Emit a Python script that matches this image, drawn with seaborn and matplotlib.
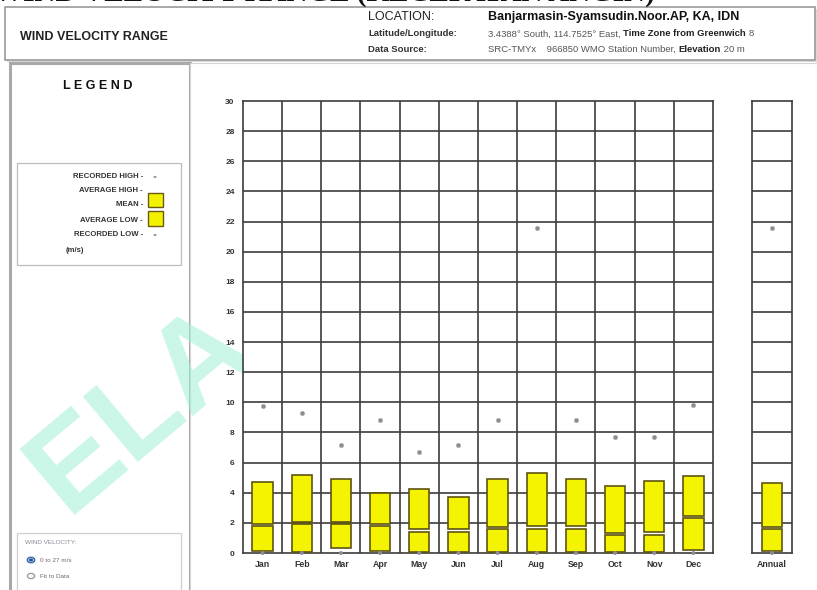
import numpy as np
import pandas as pd
import matplotlib
matplotlib.use("Agg")
import matplotlib.pyplot as plt
from matplotlib.patches import Rectangle, Circle
import seaborn as sns

# ---- data (m/s) ----
months = ["Jan", "Feb", "Mar", "Apr", "May", "Jun",
          "Jul", "Aug", "Sep", "Oct", "Nov", "Dec"]
recorded_high = [9.75, 9.3, 7.2, 8.8, 6.7, 7.2, 8.8, 21.6, 8.8, 7.7, 7.7, 9.8]
average_high = [4.7, 5.2, 4.9, 4.0, 4.25, 3.75, 4.9, 5.3, 4.9, 4.45, 4.75, 5.1]
mean_speed = [1.85, 2.0, 2.0, 1.85, 1.5, 1.5, 1.65, 1.7, 1.7, 1.25, 1.3, 2.4]
average_low = [0.1, 0.05, 0.3, 0.1, 0.05, 0.05, 0.05, 0.05, 0.05, 0.05, 0.05, 0.2]
recorded_low = [0.0] * 12

annual_label = ["Annual"]
annual_recorded_high = [21.6]
annual_average_high = [4.65]
annual_mean = [1.65]
annual_average_low = [0.1]
annual_recorded_low = [0.0]

y_ticks = list(range(0, 31, 2))

W, H = 817, 590
sns.set_style("white")
NARROW = ["Liberation Sans Narrow", "Liberation Sans", "DejaVu Sans"]
plt.rcParams["font.family"] = NARROW

fig = plt.figure(figsize=(W / 100, H / 100), dpi=100)
fig.patch.set_facecolor("white")


def fx(x):
    return x / W


def fy(y):
    return 1 - y / H


def px_rect(x0, y0, x1, y1, **kw):
    r = Rectangle((fx(x0), fy(y1)), fx(x1 - x0), (y1 - y0) / H,
                  transform=fig.transFigure, **kw)
    fig.patches.append(r)
    return r


# ---- page furniture: header bar and side panel ----
px_rect(7, 9, 817, 62, facecolor="#d8d8d8", edgecolor="none", zorder=0)
px_rect(5, 7, 815, 60, facecolor="white", edgecolor="#9a9a9a", lw=1.2, zorder=0.1)
px_rect(10, 63, 190, 600, facecolor="white", edgecolor="#a8a8a8", lw=2.2, zorder=0.1)
px_rect(190, 63, 830, 600, facecolor="white", edgecolor="#d4d4d4", lw=0.8, zorder=0.1)
px_rect(17, 163, 181, 265, facecolor="white", edgecolor="#bdbdbd", lw=0.9, zorder=0.2)
px_rect(17, 533, 181, 600, facecolor="white", edgecolor="#cfcfcf", lw=0.9, zorder=0.2)

# page heading running above the panel
fig.text(fx(655), fy(1.0), "WIND VELOCITY RANGE (KECEPATAN ANGIN)", ha="right",
         va="baseline", fontsize=21, fontweight="bold",
         family=["Liberation Serif", "DejaVu Serif"], color="#111111", zorder=3)

fig.text(fx(20), fy(37), "WIND VELOCITY RANGE", ha="left", va="center",
         fontsize=9, fontweight="bold", color="#222222", zorder=3)

fig.canvas.draw()
renderer = fig.canvas.get_renderer()


def segments(x, y, parts, size):
    """Write a row of text pieces with mixed weights, left to right."""
    for txt, weight in parts:
        t = fig.text(fx(x), fy(y), txt, ha="left", va="center", fontsize=size,
                     fontweight=weight, color="#222222" if weight == "bold" else "#555555",
                     zorder=3)
        bb = t.get_window_extent(renderer)
        x += bb.width


fig.text(fx(368), fy(17), "LOCATION:", ha="left", va="center", fontsize=9,
         color="#222222", zorder=3)
fig.text(fx(488), fy(17), "Banjarmasin-Syamsudin.Noor.AP, KA, IDN", ha="left",
         va="center", fontsize=9, fontweight="bold", color="#111111", zorder=3)
fig.text(fx(368), fy(34), "Latitude/Longitude:", ha="left", va="center",
         fontsize=6.8, fontweight="bold", color="#333333", zorder=3)
segments(488, 34, [("3.4388° South, 114.7525° East, ", "normal"),
                   ("Time Zone from Greenwich ", "bold"), ("8", "normal")], 6.8)
fig.text(fx(368), fy(49), "Data Source:", ha="left", va="center",
         fontsize=6.8, fontweight="bold", color="#333333", zorder=3)
segments(488, 49, [("SRC-TMYx    966850 WMO Station Number, ", "normal"),
                   ("Elevation", "bold"), (" 20 m", "normal")], 6.8)

# ---- legend panel ----
fig.text(fx(98), fy(86), "L E G E N D", ha="center", va="center", fontsize=9,
         fontweight="bold", family=["Liberation Sans", "DejaVu Sans"],
         color="#111111", zorder=3)
legend_rows = [("RECORDED HIGH -", 176), ("AVERAGE HIGH -", 191), ("MEAN -", 205),
               ("AVERAGE LOW -", 220), ("RECORDED LOW -", 234)]
for lab, yy in legend_rows:
    fig.text(fx(143), fy(yy), lab, ha="right", va="center", fontsize=5.6,
             fontweight="bold", color="#333333", zorder=3)
fig.text(fx(75), fy(250), "(m/s)", ha="center", va="center", fontsize=5.6,
         fontweight="bold", color="#333333", zorder=3)
px_rect(148, 193, 163, 206.5, facecolor="#f2f200", edgecolor="#6b5a10", lw=1.0, zorder=3)
px_rect(148, 211, 163, 226, facecolor="#f2f200", edgecolor="#6b5a10", lw=1.0, zorder=3)
for yy in (177, 235):
    fig.patches.append(Circle((fx(155), fy(yy)), 1.6 / W, transform=fig.transFigure,
                              facecolor="#9a9a9a", edgecolor="none", zorder=3))

# wind velocity scale selector
fig.text(fx(25), fy(543), "WIND VELOCITY:", ha="left", va="center", fontsize=4.6,
         color="#8a8a9a", zorder=3)
fig.text(fx(40), fy(560), "0 to 27 m/s", ha="left", va="center", fontsize=4.6,
         color="#6a6a7a", zorder=3)
fig.text(fx(40), fy(576), "Fit to Data", ha="left", va="center", fontsize=4.6,
         color="#6a6a7a", zorder=3)
fig.patches.append(Circle((fx(31), fy(560)), 3.6 / W, transform=fig.transFigure,
                          facecolor="white", edgecolor="#3a6fb0", lw=1.2, zorder=3))
fig.patches.append(Circle((fx(31), fy(560)), 2.0 / W, transform=fig.transFigure,
                          facecolor="#1f4f9a", edgecolor="none", zorder=3))
fig.patches.append(Circle((fx(31), fy(576)), 3.6 / W, transform=fig.transFigure,
                          facecolor="white", edgecolor="#9a9a9a", lw=0.9, zorder=3))

# faint logo watermark
fig.text(fx(142), fy(410), "ELA", ha="center", va="center", fontsize=90,
         fontweight="bold", family=["Liberation Sans", "DejaVu Sans"],
         rotation=40, color="#9ff0d6", alpha=0.55, zorder=1)

# ---- chart axes ----
top, bottom = 101, 553
main_ax = fig.add_axes([fx(243), fy(bottom), fx(713 - 243), (bottom - top) / H])
ann_ax = fig.add_axes([fx(752), fy(bottom), fx(792 - 752), (bottom - top) / H])

GRID = "#3c3c3c"
BOX_FILL = "#f4f400"
BOX_EDGE = "#5e5410"
GAP = 0.08


def draw_panel(ax, labels, hi, mn, lo, rhi, rlo, width, show_y):
    n = len(labels)
    df = pd.DataFrame({"label": labels, "pos": np.arange(n), "rhi": rhi, "rlo": rlo})
    ax.set_xlim(-0.5, n - 0.5)
    ax.set_ylim(0, 30)
    ax.set_facecolor("white")
    for v in y_ticks[1:-1]:
        ax.axhline(v, color=GRID, lw=1.2, zorder=1)
    for b in np.arange(0.5, n - 0.5, 1):
        ax.axvline(b, color=GRID, lw=1.2, zorder=1)
    pos = df["pos"].to_numpy()
    hi, mn, lo = np.asarray(hi), np.asarray(mn), np.asarray(lo)
    ax.bar(pos, (mn - GAP) - lo, bottom=lo, width=width, color=BOX_FILL,
           edgecolor=BOX_EDGE, lw=1.2, zorder=3)
    ax.bar(pos, hi - (mn + GAP), bottom=mn + GAP, width=width, color=BOX_FILL,
           edgecolor=BOX_EDGE, lw=1.2, zorder=3)
    sns.scatterplot(data=df, x="pos", y="rhi", ax=ax, s=10, color="#8c8c8c",
                    edgecolor="#b0b0b0", linewidth=0.4, zorder=4, legend=False)
    sns.scatterplot(data=df, x="pos", y="rlo", ax=ax, s=8, color="#8c8c9c",
                    edgecolor="none", zorder=4, legend=False, clip_on=False)
    ax.set_xticks(pos)
    ax.set_xticklabels(labels, fontsize=6.3, fontweight="bold", color="#333333")
    ax.tick_params(axis="x", length=0, pad=5)
    ax.set_yticks(y_ticks)
    if show_y:
        ax.set_yticklabels([str(v) for v in y_ticks], fontsize=6, fontweight="bold",
                           color="#333333")
        ax.tick_params(axis="y", length=3, width=1, color=GRID, pad=3)
    else:
        ax.set_yticklabels([])
        ax.tick_params(axis="y", length=0)
    ax.set_xlabel("")
    ax.set_ylabel("")
    for sp in ax.spines.values():
        sp.set_visible(True)
        sp.set_color(GRID)
        sp.set_linewidth(1.2)


draw_panel(main_ax, months, average_high, mean_speed, average_low,
           recorded_high, recorded_low, 0.52, True)
draw_panel(ann_ax, annual_label, annual_average_high, annual_mean,
           annual_average_low, annual_recorded_high, annual_recorded_low, 0.5, False)
main_ax.set_zorder(2)
ann_ax.set_zorder(2)

fig.savefig("out.png", dpi=100, facecolor="white")
